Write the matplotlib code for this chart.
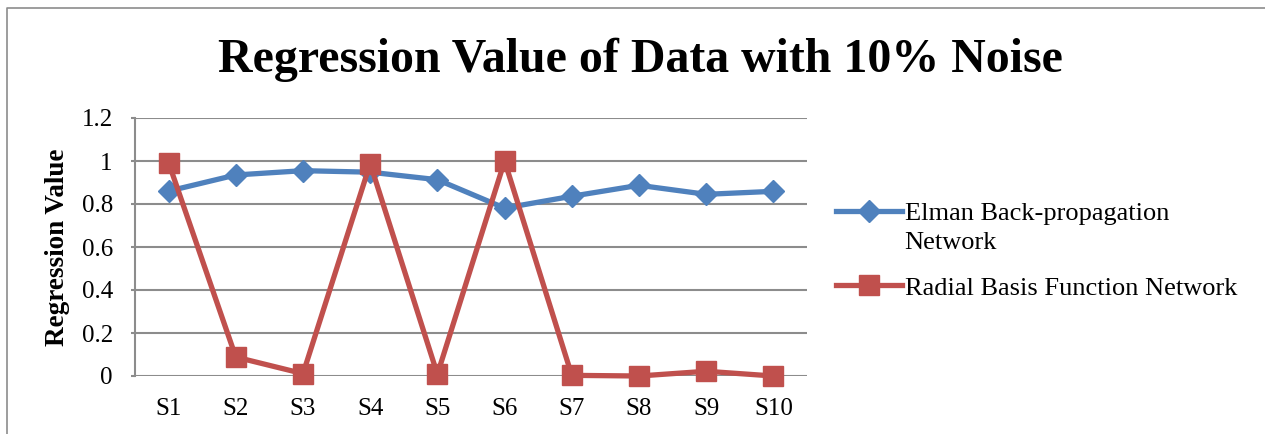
import matplotlib
matplotlib.use("Agg")
import matplotlib.pyplot as plt
import matplotlib.lines as mlines

# values
samples = ["S1", "S2", "S3", "S4", "S5", "S6", "S7", "S8", "S9", "S10"]
elman = [0.86, 0.935, 0.955, 0.948, 0.913, 0.781, 0.836, 0.887, 0.845, 0.859]
rbf = [0.992, 0.088, 0.011, 0.988, 0.008, 1.0, 0.003, 0.0, 0.022, 0.0]
yticks = [0, 0.2, 0.4, 0.6, 0.8, 1, 1.2]

plt.rcParams['font.family'] = ['Liberation Serif', 'DejaVu Serif']

W, H = 1265, 434
fig = plt.figure(figsize=(W / 100, H / 100), dpi=100)
ax = fig.add_axes([135 / W, 1 - 376 / H, 672 / W, 258 / H])

x = list(range(len(samples)))
l1, = ax.plot(x, elman, color="#4F81BD", lw=3.8, marker="D", ms=11, clip_on=False)
l2, = ax.plot(x, rbf, color="#C0504D", lw=3.8, marker="s", ms=14, clip_on=False)

ax.set_xlim(-0.5, len(samples) - 0.5)
ax.set_ylim(0, 1.2)
ax.set_xticks(x)
ax.set_xticklabels(samples)
ax.set_yticks(yticks)
ax.set_yticklabels([f"{v:g}" for v in yticks])
ax.yaxis.grid(True, color="#8c8c8c", lw=1.5)
ax.set_axisbelow(True)
ax.tick_params(axis="x", length=0, labelsize=18, pad=16)
ax.tick_params(axis="y", length=3, width=1.5, color="#8c8c8c", labelsize=18, pad=13)
for s in ["top", "right", "bottom"]:
    ax.spines[s].set_visible(False)
ax.spines["left"].set_color("#8c8c8c")
ax.spines["left"].set_linewidth(1.5)

fig.text(58 / W, 1 - 247 / H, "Regression Value", rotation=90, ha="center",
         va="center", fontsize=19.5, fontweight="bold")

fig.text(0.506, 0.862, "Regression Value of Data with 10% Noise",
         ha="center", va="center", fontsize=34.5, fontweight="bold")

h1 = mlines.Line2D([], [], color="#4F81BD", lw=3.8, marker="D", ms=11)
h2 = mlines.Line2D([], [], color="#C0504D", lw=3.8, marker="s", ms=14)
leg = fig.legend([h1, h2], ["Elman Back-propagation", "Radial Basis Function Network"],
                 loc="upper left", bbox_to_anchor=(836 / W, 1 - 202 / H),
                 bbox_transform=fig.transFigure, frameon=False, fontsize=19,
                 handlelength=2.5, labelspacing=1.92, handletextpad=0.1,
                 borderpad=0, borderaxespad=0)

# second line of the first legend label
fig.canvas.draw()
bb = leg.get_texts()[0].get_window_extent()
fig.text(bb.x0 / W, 1 - 243 / H, "Network", ha="left", va="center", fontsize=19)

# outer chart frame (left and top edges only)
fig.add_artist(mlines.Line2D([7 / W, 7 / W, 1], [0, 1 - 8 / H, 1 - 8 / H],
                             transform=fig.transFigure, color="#8c8c8c", lw=1.2))

fig.savefig("out.png", dpi=100)
